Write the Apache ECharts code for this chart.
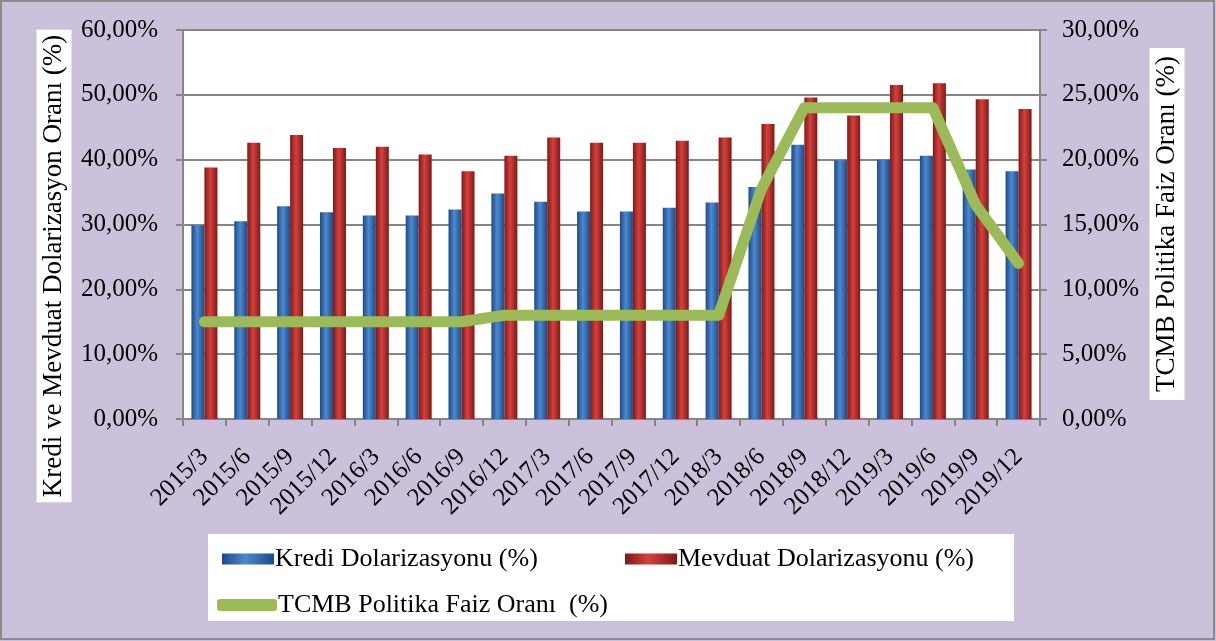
<!DOCTYPE html>
<html>
<head>
<meta charset="utf-8">
<script src="https://cdn.jsdelivr.net/npm/echarts@6/dist/echarts.min.js"></script>
<style>
  html, body { margin: 0; padding: 0; }
  #chart { width: 1216px; height: 641px; }
</style>
</head>
<body>
<div id="chart"></div>
<script>
const categories = ["2015/3", "2015/6", "2015/9", "2015/12", "2016/3", "2016/6", "2016/9", "2016/12",
  "2017/3", "2017/6", "2017/9", "2017/12", "2018/3", "2018/6", "2018/9", "2018/12",
  "2019/3", "2019/6", "2019/9", "2019/12"];
const kredi = [29.9, 30.5, 32.8, 31.9, 31.4, 31.4, 32.3, 34.8, 33.5, 32.0,
  32.0, 32.6, 33.4, 35.8, 42.3, 39.9, 40.0, 40.6, 38.5, 38.2];
const mevduat = [38.8, 42.6, 43.8, 41.8, 42.0, 40.8, 38.2, 40.6, 43.4, 42.6,
  42.6, 42.9, 43.4, 45.5, 49.6, 46.8, 51.5, 51.8, 49.3, 47.8];
const tcmb = [7.5, 7.5, 7.5, 7.5, 7.5, 7.5, 7.5, 8.0, 8.0, 8.0,
  8.0, 8.0, 8.0, 17.75, 24.0, 24.0, 24.0, 24.0, 16.5, 12.0];
const leftTicks = [0, 10, 20, 30, 40, 50, 60];
const rightTicks = [0, 5, 10, 15, 20, 25, 30];

const font = "'Liberation Serif', 'DejaVu Serif', serif";
const gray = "#868686";
const fmt = v => v.toFixed(2).replace(".", ",") + "%";

const chart = echarts.init(document.getElementById("chart"));

function barGrad(dark, light) {
  return new echarts.graphic.LinearGradient(0, 0, 1, 0, [
    { offset: 0, color: dark },
    { offset: 0.45, color: light },
    { offset: 1, color: dark },
  ]);
}

const legendText = { fontFamily: font, fontSize: 26, color: "#000", padding: [0, 0, 0, -4] };

chart.setOption({
  backgroundColor: "#ccc1da",
  animation: false,
  grid: {
    left: 183,
    right: 176,
    top: 30,
    bottom: 222,
    show: true,
    backgroundColor: "#fff",
    borderWidth: 0,
  },
  graphic: [
    {
      type: "rect",
      shape: { x: 1, y: 1, width: 1213, height: 638 },
      style: { fill: null, stroke: "#8a8a8a", lineWidth: 2 },
      silent: true,
    },
    {
      type: "rect",
      shape: { x: 208, y: 534, width: 806, height: 87 },
      style: { fill: "#fff" },
      z: -1,
      silent: true,
    },
    {
      type: "text",
      x: 54,
      y: 266,
      rotation: Math.PI / 2,
      style: {
        text: "Kredi ve Mevduat Dolarizasyon Oranı (%)",
        font: "27px " + font,
        fill: "#000",
        align: "center",
        verticalAlign: "middle",
        backgroundColor: "#fff",
        padding: [5, 5, 3, 5],
      },
    },
    {
      type: "text",
      x: 1167,
      y: 224,
      rotation: Math.PI / 2,
      style: {
        text: "TCMB Politika Faiz Oranı (%)",
        font: "27px " + font,
        fill: "#000",
        align: "center",
        verticalAlign: "middle",
        backgroundColor: "#fff",
        padding: [5, 8, 3, 8],
      },
    },
  ],
  legend: [
    {
      left: 217, top: 541,
      itemWidth: 52, itemHeight: 11, itemGap: 0,
      textStyle: legendText,
      data: [{ name: "Kredi Dolarizasyonu (%)", icon: "rect" }],
    },
    {
      left: 620, top: 541,
      itemWidth: 52, itemHeight: 11, itemGap: 0,
      textStyle: legendText,
      data: [{ name: "Mevduat Dolarizasyonu (%)", icon: "rect" }],
    },
    {
      left: 212, top: 587,
      itemWidth: 60, itemHeight: 12, itemGap: 0,
      textStyle: legendText,
      data: [{ name: "TCMB Politika Faiz Oranı  (%)", icon: "roundRect" }],
    },
  ],
  xAxis: {
    type: "category",
    data: categories,
    boundaryGap: true,
    axisLine: { lineStyle: { color: gray, width: 2 } },
    axisTick: { show: true, length: 7, alignWithLabel: false, lineStyle: { color: gray, width: 2 } },
    axisLabel: {
      interval: 0,
      rotate: 45,
      margin: 34,
      fontFamily: font,
      fontSize: 25,
      color: "#000",
    },
  },
  yAxis: [
    {
      type: "value",
      min: leftTicks[0],
      max: leftTicks[leftTicks.length - 1],
      interval: leftTicks[1] - leftTicks[0],
      axisLine: { show: true, lineStyle: { color: gray, width: 2 } },
      axisTick: { show: true, length: 7, lineStyle: { color: gray, width: 2 } },
      splitLine: { lineStyle: { color: gray, width: 2 } },
      axisLabel: { formatter: fmt, margin: 25, fontFamily: font, fontSize: 25, color: "#000" },
    },
    {
      type: "value",
      min: rightTicks[0],
      max: rightTicks[rightTicks.length - 1],
      interval: rightTicks[1] - rightTicks[0],
      position: "right",
      axisLine: { show: true, lineStyle: { color: gray, width: 2 } },
      axisTick: { show: true, length: 7, lineStyle: { color: gray, width: 2 } },
      splitLine: { show: false },
      axisLabel: { formatter: fmt, margin: 22, fontFamily: font, fontSize: 25, color: "#000" },
    },
  ],
  series: [
    {
      name: "Kredi Dolarizasyonu (%)",
      type: "bar",
      barWidth: 13,
      barGap: "0%",
      itemStyle: { color: barGrad("#1d4a82", "#4b89d2") },
      data: kredi,
    },
    {
      name: "Mevduat Dolarizasyonu (%)",
      type: "bar",
      barWidth: 13,
      itemStyle: { color: barGrad("#7c1a18", "#d6403c") },
      data: mevduat,
    },
    {
      name: "TCMB Politika Faiz Oranı  (%)",
      type: "line",
      yAxisIndex: 1,
      symbol: "none",
      color: "#9bbb59",
      lineStyle: { color: "#9bbb59", width: 11, cap: "round", join: "round" },
      z: 5,
      data: tcmb,
    },
  ],
});
</script>
</body>
</html>
